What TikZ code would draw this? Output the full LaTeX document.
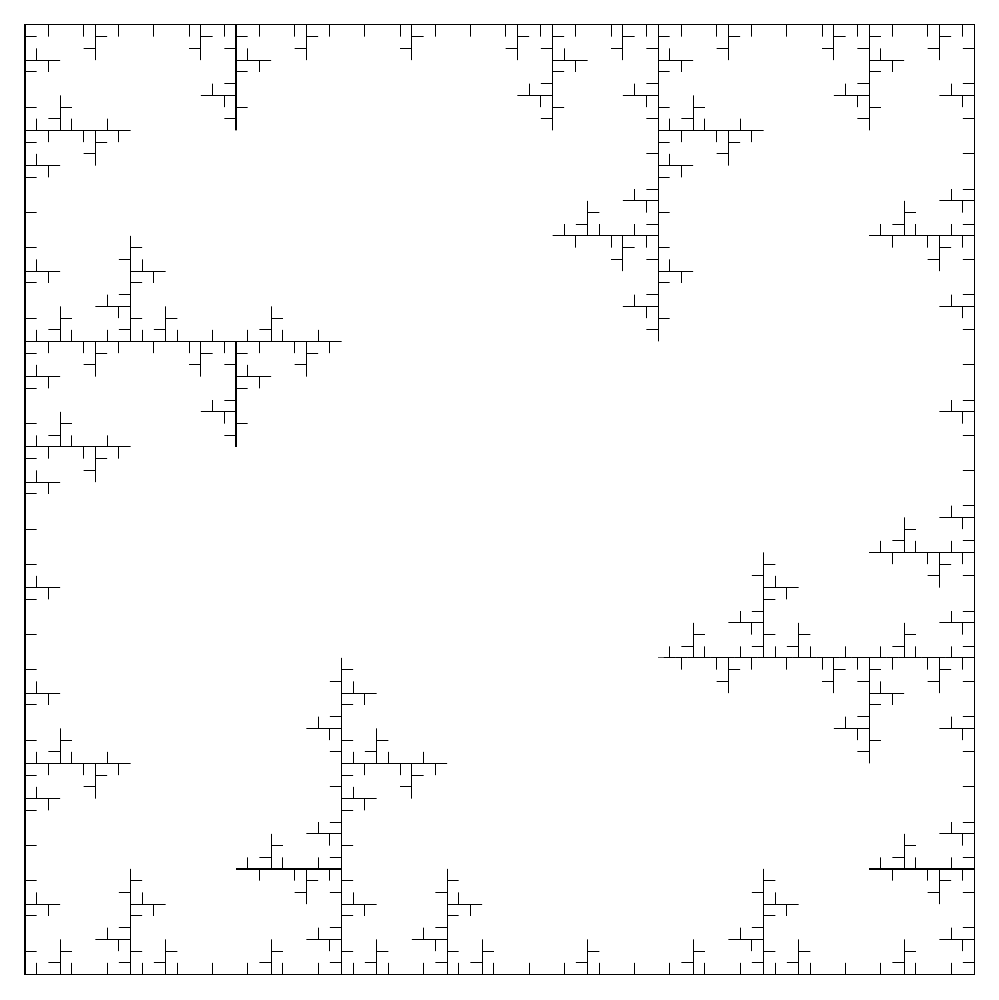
\documentclass[tikz,border=0pt]{standalone}
% Pinwheel fractal: each segment (interior on its right) becomes
% A -> P1 -> P2 -> spoke tip T -> P2 -> B, recursively (4 levels, 81 units).
\newcommand\pwseg[5]{%
  \ifnum#5=0
    \xdef\pwpath{\pwpath -- (#3,#4)}%
    \let\pwnext\relax
  \else
    \edef\pwnext{%
      \noexpand\pwseg{#1}{#2}%
        {\the\numexpr#1+(#3-#1)/3\relax}{\the\numexpr#2+(#4-#2)/3\relax}%
        {\the\numexpr#5-1\relax}%
      \noexpand\pwseg
        {\the\numexpr#1+(#3-#1)/3\relax}{\the\numexpr#2+(#4-#2)/3\relax}%
        {\the\numexpr#1+2*(#3-#1)/3\relax}{\the\numexpr#2+2*(#4-#2)/3\relax}%
        {\the\numexpr#5-1\relax}%
      \noexpand\pwseg
        {\the\numexpr#1+2*(#3-#1)/3\relax}{\the\numexpr#2+2*(#4-#2)/3\relax}%
        {\the\numexpr#1+2*(#3-#1)/3+(#4-#2)/3\relax}{\the\numexpr#2+2*(#4-#2)/3-(#3-#1)/3\relax}%
        {\the\numexpr#5-1\relax}%
      \noexpand\pwseg
        {\the\numexpr#1+2*(#3-#1)/3+(#4-#2)/3\relax}{\the\numexpr#2+2*(#4-#2)/3-(#3-#1)/3\relax}%
        {\the\numexpr#1+2*(#3-#1)/3\relax}{\the\numexpr#2+2*(#4-#2)/3\relax}%
        {\the\numexpr#5-1\relax}%
      \noexpand\pwseg
        {\the\numexpr#1+2*(#3-#1)/3\relax}{\the\numexpr#2+2*(#4-#2)/3\relax}%
        {#3}{#4}%
        {\the\numexpr#5-1\relax}%
    }%
  \fi
  \pwnext}
\gdef\pwpath{}
\pwseg{0}{81}{81}{81}{4}
\pwseg{81}{81}{81}{0}{4}
\pwseg{81}{0}{0}{0}{4}
\pwseg{0}{0}{0}{81}{4}
\tikzset{fractalline/.style={draw=black, line width=0.58pt, line join=miter}}
\begin{document}
\begin{tikzpicture}[x=0.234444cm, y=0.234444cm, shift={(0.5cm,0.51cm)}]
\useasboundingbox (-0.5cm,-0.51cm) rectangle (19.48cm,19.49cm);
\fill[white] (-0.5cm,-0.51cm) rectangle (19.48cm,19.49cm);
\coordinate (start) at (0,81);
\draw[fractalline] (start) \pwpath -- cycle;
\end{tikzpicture}
\end{document}
